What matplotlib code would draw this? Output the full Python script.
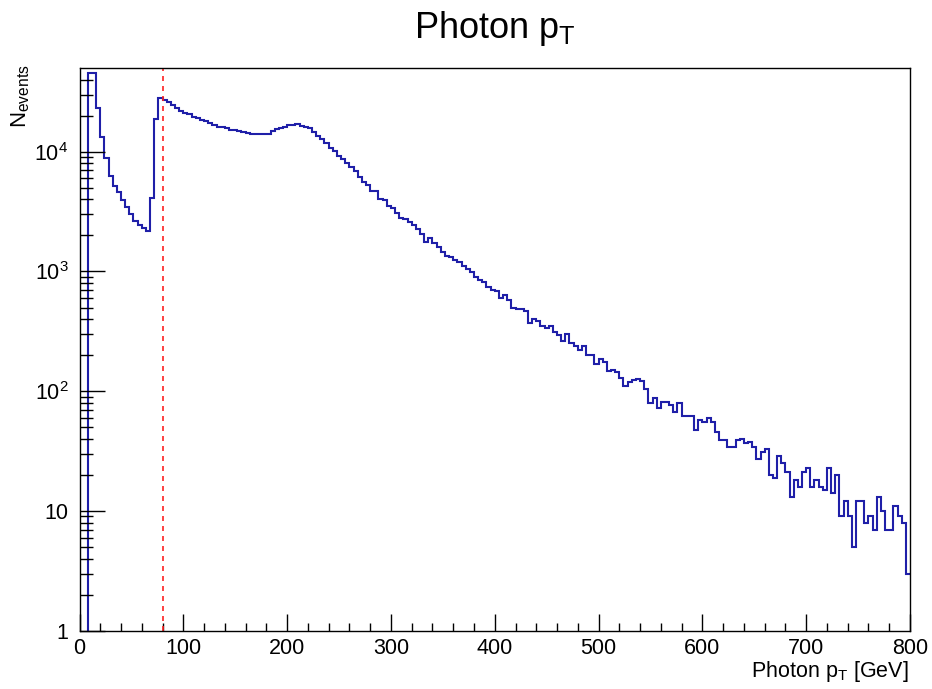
import numpy as np
import matplotlib
matplotlib.use("Agg")
import matplotlib.pyplot as plt
from matplotlib.ticker import FixedLocator, FixedFormatter, LogLocator, MultipleLocator, NullFormatter

plt.rcParams['font.family'] = ['Liberation Sans', 'DejaVu Sans']
plt.rcParams['mathtext.fontset'] = 'custom'
plt.rcParams['mathtext.rm'] = 'Liberation Sans'
plt.rcParams['mathtext.it'] = 'Liberation Sans'

# histogram: 200 bins of 4 GeV between 0 and 800
bin_edges = np.arange(0, 804, 4)

# 0 - 80 GeV
counts_low = [0, 0, 45700, 45200, 23100, 13200, 8910, 6310, 5180, 4630,
              3950, 3480, 3020, 2630, 2440, 2320, 2180, 4130, 18750, 27900]
# 80 - 280 GeV
counts_peak = [27040, 26180, 24550, 23330, 22030, 21130, 20650, 19590, 19010, 18280,
               18030, 17260, 16710, 16140, 16000, 15670, 15240, 15100, 14960, 14590,
               14450, 14130, 14060, 14030, 14060, 14130, 14890, 15380, 15850, 16180,
               16630, 16790, 17020, 16480, 16070, 15670, 14690, 13610, 12680, 11750,
               10790, 10140, 9270, 8690, 8000, 7500, 6900, 6180, 5620, 5270]
# 280 - 480 GeV
counts_mid = [4740, 4700, 4030, 3950, 3540, 3370, 3060, 2810, 2740, 2610,
              2440, 2260, 2040, 1770, 1890, 1730, 1600, 1450, 1350, 1310,
              1250, 1190, 1110, 1040, 982, 904, 843, 817, 746, 706,
              682, 597, 631, 583, 498, 488, 483, 468, 369, 401,
              388, 351, 339, 348, 314, 296, 262, 301, 253, 239]
# 480 - 800 GeV
counts_tail = [219, 239, 202, 201, 168, 185, 176, 148, 150, 146,
               128, 111, 120, 124, 127, 121, 104, 80, 87, 73,
               82, 82, 76, 67, 80, 62, 62, 62, 47, 58,
               55, 60, 55, 46, 39, 39, 34, 34, 39, 40,
               37, 38, 34, 27, 31, 33, 20, 19, 29, 25,
               21, 13, 18, 16, 21, 23, 16, 18, 16, 15,
               23, 14, 20, 9, 12, 9, 5, 12, 12, 8,
               9, 7, 13, 10, 7, 7, 11, 9, 8, 3]

counts = np.array(counts_low + counts_peak + counts_mid + counts_tail, dtype=float)

cut_value = 80

fig = plt.figure(figsize=(9.32, 6.89), dpi=100)
ax = fig.add_axes([79.5 / 932, 58.3 / 689, 830.5 / 932, 562.4 / 689])

ax.stairs(counts, bin_edges, baseline=None, color='#1f1fa8', linewidth=1.5)
ax.axvline(cut_value, color='#ff2020', linestyle=(0, (3, 3)), linewidth=1.2)

ax.set_yscale('log')
ax.set_xlim(0, 800)
ax.set_ylim(1, 10 ** 4.697)

ax.xaxis.set_major_locator(MultipleLocator(100))
ax.xaxis.set_minor_locator(MultipleLocator(20))
ax.yaxis.set_major_locator(FixedLocator([1, 10, 100, 1000, 10000]))
ax.yaxis.set_major_formatter(FixedFormatter(['1', '10', '$10^{2}$', '$10^{3}$', '$10^{4}$']))
ax.yaxis.set_minor_locator(LogLocator(base=10, subs=np.arange(2, 10)))
ax.yaxis.set_minor_formatter(NullFormatter())

ax.tick_params(which='both', direction='in', top=False, right=False, labelsize=15.5, width=1)
ax.tick_params(axis='x', which='major', length=12, pad=5)
ax.tick_params(axis='x', which='minor', length=6)
ax.tick_params(axis='y', which='major', length=18, pad=8)
ax.tick_params(axis='y', which='minor', length=9)

for s in ax.spines.values():
    s.set_linewidth(1)

fig.text(495 / 932, 1 - 38 / 689, r'Photon p$_\mathrm{T}$', ha='center', va='baseline', fontsize=26)
fig.text(909 / 932, 1 - 677 / 689, r'Photon p$_\mathrm{T}$ [GeV]', ha='right', va='baseline', fontsize=15.5)
fig.text(32 / 932, 1 - 64 / 689, r'N$_\mathrm{events}$', ha='right', va='top', rotation=90, fontsize=16)

fig.savefig('out.png', dpi=100)
